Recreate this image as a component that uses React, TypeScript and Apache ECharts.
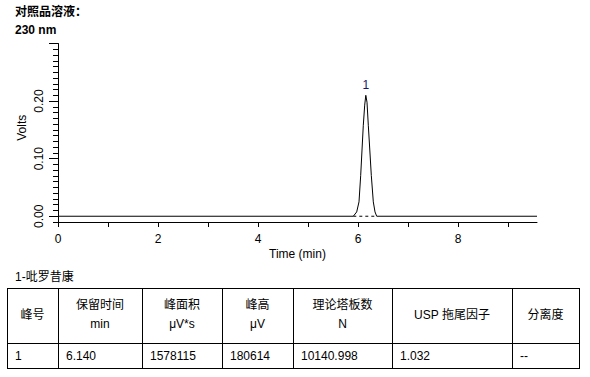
import React, { useEffect, useRef } from 'react';
import * as echarts from 'echarts';

// ---- data ----
const traceTimes = [0, 5.906, 5.974, 6.02, 6.054, 6.08, 6.106, 6.134, 6.156, 6.18, 6.206, 6.236, 6.266, 6.306, 6.34, 6.374, 9.58];
const traceVolts = [0, 0, 0.0075, 0.025, 0.071, 0.115, 0.158, 0.193, 0.21, 0.198, 0.158, 0.115, 0.071, 0.025, 0.0075, 0, 0];
const baselineTimes = [5.906, 6.374];
const baselineVolts = [0, 0];
const peakApexTime = 6.156;
const peakApexVolts = 0.21;
const peakName = '1';

const xTickValues = [0, 1, 2, 3, 4, 5, 6, 7, 8, 9];
const xLabelValues = [0, 2, 4, 6, 8];
const yMajorTickValues = [0, 0.1, 0.2, 0.3];
const yLabelValues = [0, 0.1, 0.2];

const titleLine1 = '对照品溶液：';
const titleLine2 = '230 nm';
const compoundLabel = '1-吡罗昔康';
const tableHeaders = [['峰号'], ['保留时间', 'min'], ['峰面积', 'μV*s'], ['峰高', 'μV'], ['理论塔板数', 'N'], ['USP 拖尾因子'], ['分离度']];
const tableRow = ['1', '6.140', '1578115', '180614', '10140.998', '1.032', '--'];

const FONT = '"Liberation Sans", Arial, "Noto Sans CJK SC", sans-serif';
const PEAK_LABEL_COLOR = '#1a1466';

export default function App() {
  const ref = useRef<HTMLDivElement>(null);

  useEffect(() => {
    if (!ref.current) return;
    const chart = echarts.init(ref.current, undefined, { renderer: 'svg' });

    const colX = [7, 58, 142, 222, 293, 392, 512, 579];
    const rowY = [288, 343, 368];
    const graphics: any[] = [];
    graphics.push({ type: 'text', left: 15, top: 6, style: { text: titleLine1, font: `bold 12px ${FONT}`, fill: '#000' } });
    graphics.push({ type: 'text', left: 15, top: 24, style: { text: titleLine2, font: `bold 12px ${FONT}`, fill: '#000' } });
    graphics.push({ type: 'text', x: 15, y: 276.5, style: { text: compoundLabel, font: `12px ${FONT}`, fill: '#000', verticalAlign: 'middle' } });
    colX.forEach((x) => {
      graphics.push({ type: 'line', shape: { x1: x + 0.5, y1: rowY[0], x2: x + 0.5, y2: rowY[2] + 1 }, style: { stroke: '#000', lineWidth: 1 } });
    });
    rowY.forEach((y) => {
      graphics.push({ type: 'line', shape: { x1: colX[0], y1: y + 0.5, x2: colX[colX.length - 1] + 1, y2: y + 0.5 }, style: { stroke: '#000', lineWidth: 1 } });
    });
    tableHeaders.forEach((lines, i) => {
      const cx = (colX[i] + colX[i + 1]) / 2;
      if (lines.length === 1) {
        graphics.push({ type: 'text', x: cx, y: 314.5, style: { text: lines[0], font: `12px ${FONT}`, fill: '#000', align: 'center', verticalAlign: 'middle' } });
      } else {
        graphics.push({ type: 'text', x: cx, y: 305, style: { text: lines[0], font: `12px ${FONT}`, fill: '#000', align: 'center', verticalAlign: 'middle' } });
        graphics.push({ type: 'text', x: cx, y: 324, style: { text: lines[1], font: `12px ${FONT}`, fill: '#000', align: 'center', verticalAlign: 'middle' } });
      }
    });
    tableRow.forEach((v, i) => {
      graphics.push({ type: 'text', x: colX[i] + 8, y: 355.5, style: { text: v, font: `12px ${FONT}`, fill: '#000', align: 'left', verticalAlign: 'middle' } });
    });

    chart.setOption({
      animation: false,
      backgroundColor: '#fff',
      textStyle: { fontFamily: FONT },
      grid: { left: 58, top: 43.5, width: 479, height: 178.5, containLabel: false },
      xAxis: {
        type: 'value', min: 0, max: 9.58, interval: 1,
        axisLine: { show: true, onZero: false, lineStyle: { color: '#000', width: 1 } },
        axisTick: { show: true, customValues: xTickValues, length: 5, inside: false, lineStyle: { color: '#000', width: 1 } },
        axisLabel: { customValues: xLabelValues, margin: 11, color: '#000', fontSize: 12, fontFamily: FONT, formatter: (v: number) => String(v) },
        splitLine: { show: false },
        name: 'Time (min)', nameLocation: 'middle', nameGap: 26, nameMoveOverlap: false,
        nameTextStyle: { color: '#000', fontSize: 12, fontFamily: FONT },
      },
      yAxis: [
        {
          type: 'value', min: -0.01, max: 0.3, interval: 0.01,
          axisLine: { show: true, onZero: false, lineStyle: { color: '#000', width: 1 } },
          axisTick: { show: true, length: 5, lineStyle: { color: '#000', width: 1 } },
          axisLabel: { show: false },
          splitLine: { show: false },
        },
        {
          type: 'value', min: -0.01, max: 0.3, position: 'left',
          axisLine: { show: false, onZero: false },
          axisTick: { show: true, customValues: yMajorTickValues, length: 9, lineStyle: { color: '#000', width: 1 } },
          axisLabel: { customValues: yLabelValues, rotate: 90, margin: 13, color: '#000', fontSize: 12, fontFamily: FONT, formatter: (v: number) => v.toFixed(2) },
          splitLine: { show: false },
          name: 'Volts', nameLocation: 'middle', nameGap: 30, nameRotate: 90, nameMoveOverlap: false,
          nameTextStyle: { color: '#000', fontSize: 12, fontFamily: FONT, padding: [0, 0, 0, 10] },
        },
      ],
      series: [
        {
          type: 'line', yAxisIndex: 0, symbol: 'none', showSymbol: false,
          data: traceTimes.map((t, i) => [t, traceVolts[i]]),
          lineStyle: { color: '#000', width: 1 },
          itemStyle: { color: '#000' },
          silent: true,
          markPoint: {
            silent: true,
            symbol: 'circle',
            symbolSize: 0,
            itemStyle: { color: PEAK_LABEL_COLOR, opacity: 1 },
            label: { show: true, position: 'top', distance: 4, color: PEAK_LABEL_COLOR, fontSize: 12, fontFamily: FONT, formatter: peakName },
            data: [{ coord: [peakApexTime, peakApexVolts] }],
          },
        },
        {
          type: 'line', yAxisIndex: 0, symbol: 'none', showSymbol: false,
          data: baselineTimes.map((t, i) => [t, baselineVolts[i]]),
          lineStyle: { color: '#000', width: 1, type: [3, 3] },
          itemStyle: { color: '#000' },
          silent: true,
        },
      ],
      graphic: graphics,
    });

    return () => chart.dispose();
  }, []);

  return <div ref={ref} style={{ position: 'fixed', left: 0, top: 0, width: 590, height: 377, background: '#fff' }} />;
}
